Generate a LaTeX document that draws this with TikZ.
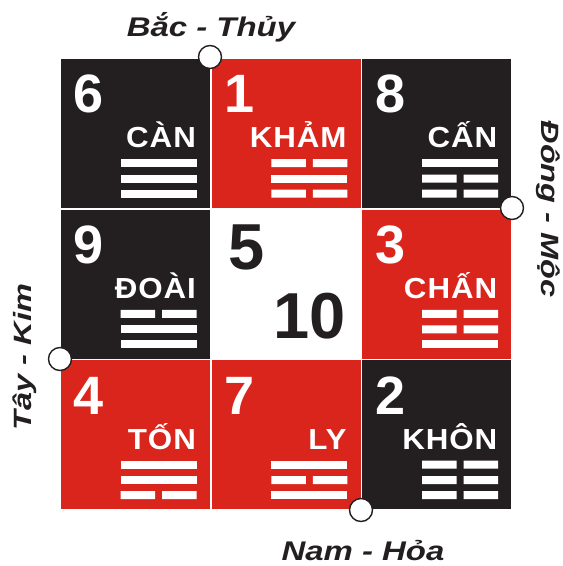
\documentclass[tikz,border=0pt]{standalone}
\usepackage{fontspec}
\setmainfont{Liberation Sans}
\usetikzlibrary{calc}
\definecolor{quaiRed}{HTML}{DA251D}
\definecolor{quaiBlack}{HTML}{231F20}

\begin{document}
\begin{tikzpicture}[x=1pt, y=-1pt,
  cell/.style={minimum size=149pt, inner sep=0pt},
  num/.style={text=white, inner sep=0pt, anchor=base west, font=\bfseries\fontsize{54}{54}\selectfont},
  gua/.style={text=white, inner sep=0pt, anchor=base east, xscale=1.08, font=\bfseries\fontsize{29}{29}\selectfont\addfontfeature{LetterSpace=3}},
  huong/.style={text=quaiBlack, inner sep=0pt, anchor=base, xscale=1.22, font=\bfseries\itshape\fontsize{27}{27}\selectfont},
  huongdoc/.style={text=quaiBlack, inner sep=0pt, anchor=base, xscale=1.3, font=\bfseries\itshape\fontsize{25}{25}\selectfont},
  moc/.style={circle, draw=quaiBlack, fill=white, line width=1.4pt, minimum size=23pt, inner sep=0pt}]
  \useasboundingbox (0,0) rectangle (563,566);
  % one line of a trigram: yang = whole, yin = broken
  \def\yang#1#2{\fill[white] ($(#1.north west)+(60,#2-4)$) rectangle +(76,8);}
  \def\yin#1#2{\fill[white] ($(#1.north west)+(60,#2-4)$) rectangle +(34.5,8)
    ($(#1.north west)+(101.5,#2-4)$) rectangle +(34.5,8);}
  % top row
  \node[cell, fill=quaiBlack] (cung6) at (135.3,133.3) {};
  \node[num] at ($(cung6.north west)+(13,54)$) {6};
  \node[gua] at ($(cung6.north west)+(135.5,89)$) {CÀN};
  \yang{cung6}{104.5} \yang{cung6}{120} \yang{cung6}{135}
  \node[cell, fill=quaiRed] (cung1) at (286,133.3) {};
  \node[num] at ($(cung1.north west)+(13,54)$) {1};
  \node[gua] at ($(cung1.north west)+(135.5,89)$) {KHẢM};
  \yin{cung1}{104.5} \yang{cung1}{120} \yin{cung1}{135}
  \node[cell, fill=quaiBlack] (cung8) at (436.7,133.3) {};
  \node[num] at ($(cung8.north west)+(13,54)$) {8};
  \node[gua] at ($(cung8.north west)+(135.5,89)$) {CẤN};
  \yang{cung8}{104.5} \yin{cung8}{120} \yin{cung8}{135}
  % middle row
  \node[cell, fill=quaiBlack] (cung9) at (135.3,284) {};
  \node[num] at ($(cung9.north west)+(13,54)$) {9};
  \node[gua] at ($(cung9.north west)+(135.5,89)$) {ĐOÀI};
  \yin{cung9}{104.5} \yang{cung9}{120} \yang{cung9}{135}
  \node[cell] (cung5) at (286,284) {};
  \node[num, text=quaiBlack, font=\bfseries\fontsize{65}{65}\selectfont] at ($(cung5.north west)+(17,60)$) {5};
  \node[num, text=quaiBlack, anchor=base east, font=\bfseries\fontsize{65}{65}\selectfont] at ($(cung5.north west)+(135,129)$) {10};
  \node[cell, fill=quaiRed] (cung3) at (436.7,284) {};
  \node[num] at ($(cung3.north west)+(13,54)$) {3};
  \node[gua] at ($(cung3.north west)+(135.5,89)$) {CHẤN};
  \yin{cung3}{104.5} \yin{cung3}{120} \yang{cung3}{135}
  % bottom row
  \node[cell, fill=quaiRed] (cung4) at (135.3,434.7) {};
  \node[num] at ($(cung4.north west)+(13,54)$) {4};
  \node[gua] at ($(cung4.north west)+(135.5,89)$) {TỐN};
  \yang{cung4}{104.5} \yang{cung4}{120} \yin{cung4}{135}
  \node[cell, fill=quaiRed] (cung7) at (286,434.7) {};
  \node[num] at ($(cung7.north west)+(13,54)$) {7};
  \node[gua] at ($(cung7.north west)+(135.5,89)$) {LY};
  \yang{cung7}{104.5} \yin{cung7}{120} \yang{cung7}{135}
  \node[cell, fill=quaiBlack] (cung2) at (436.7,434.7) {};
  \node[num] at ($(cung2.north west)+(13,54)$) {2};
  \node[gua] at ($(cung2.north west)+(135.5,89)$) {KHÔN};
  \yin{cung2}{104.5} \yin{cung2}{120} \yin{cung2}{135}
  % the four directions
  \node[moc] (bac) at (210,57) {};
  \node[moc] (dong) at (512,208) {};
  \node[moc] (tay) at (60,359) {};
  \node[moc] (nam) at (361,510) {};
  \node[huong] at (211,36) {Bắc - Thủy};
  \node[rotate=-90, huongdoc] at (541.5,209) {Đông - Mộc};
  \node[rotate=90, huongdoc] at (31,357) {Tây - Kim};
  \node[huong] at (363,560) {Nam - Hỏa};
\end{tikzpicture}
\end{document}
